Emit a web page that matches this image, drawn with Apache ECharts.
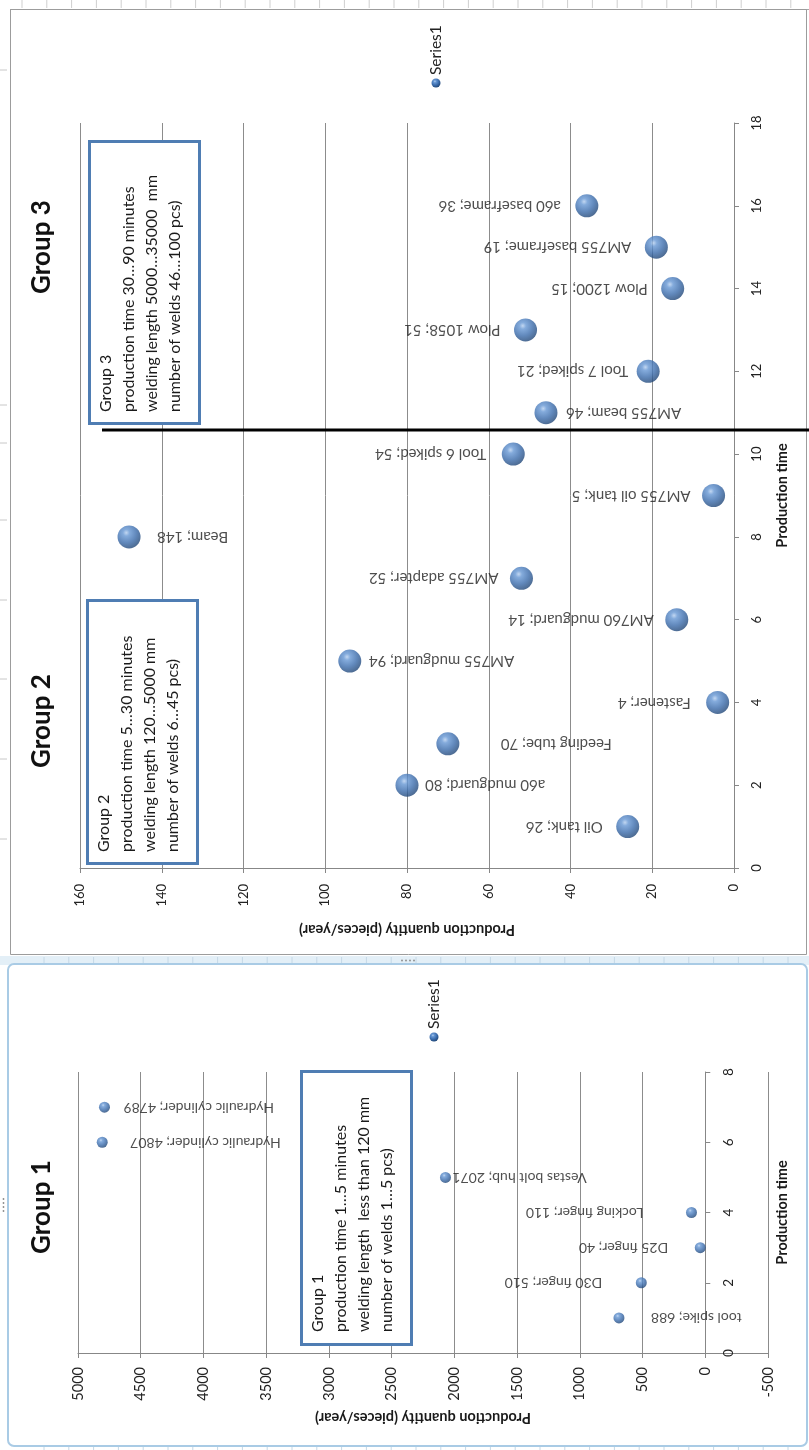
<!DOCTYPE html>
<html>
<head>
<meta charset="utf-8">
<script src="https://cdn.jsdelivr.net/npm/echarts@6/dist/echarts.min.js"></script>
<style>
  html, body { margin: 0; padding: 0; background: #fff; }
  #chart { width: 809px; height: 1450px; }
</style>
</head>
<body>
<div id="chart"></div>
<script>
// ---- Group 1: quick parts (production time 1..7 min) ----
const group1Names = ['tool spike', 'D30 finger', 'D25 finger', 'Locking finger', 'Vestas bolt hub', 'Hydraulic cylinder', 'Hydraulic cylinder'];
const group1Time  = [1, 2, 3, 4, 5, 6, 7];
const group1Qty   = [688, 510, 40, 110, 2071, 4807, 4789];

// ---- Groups 2 and 3: longer welds (production time 1..16) ----
const group23Names = ['Oil tank', 'a60 mudguard', 'Feeding tube', 'Fastener', 'AM755 mudguard', 'AM760 mudguard',
  'AM755 adapter', 'Beam', 'AM755 oil tank', 'Tool 6 spiked', 'AM755 beam', 'Tool 7 spiked', 'Plow 1058',
  'Plow 1200', 'AM755 baseframe', 'a60 baseframe'];
const group23Time  = [1, 2, 3, 4, 5, 6, 7, 8, 9, 10, 11, 12, 13, 14, 15, 16];
const group23Qty   = [26, 80, 70, 4, 94, 14, 52, 148, 5, 54, 46, 21, 51, 15, 19, 36];

// ---- axis ticks ----
const qtyTicks1   = [-500, 0, 500, 1000, 1500, 2000, 2500, 3000, 3500, 4000, 4500, 5000];
const timeTicks1  = [0, 2, 4, 6, 8];
const qtyTicks23  = [0, 20, 40, 60, 80, 100, 120, 140, 160];
const timeTicks23 = [0, 2, 4, 6, 8, 10, 12, 14, 16, 18];

// ---- group notes ----
const note1 = ['Group 1', 'production time 1\u20265 minutes', 'welding length  less than 120 mm', 'number of welds 1\u20265 pcs)'];
const note2 = ['Group 2', 'production time 5\u202630 minutes', 'welding length 120\u20265000 mm', 'number of welds 6\u202645 pcs)'];
const note3 = ['Group 3', 'production time 30\u202690 minutes', 'welding length 5000\u202635000  mm', 'number of welds 46\u2026100 pcs)'];

// label placement: +1 label after the marker, -1 before it; gap from marker centre in px
const side1  = [1, -1, -1, -1, 1, 1, 1];
const gap1   = [32, 39, 32, 48, 7, 28, 19];
const side23 = [-1, 1, 1, -1, 1, -1, -1, 1, -1, -1, 1, -1, -1, -1, -1, -1];
const gap23  = [25, 18, 53, 27, 19, 23, 23, 28, 23, 27, 20, 20, 25, 25, 25, 26];

const FONT = 'Lato, "Open Sans", sans-serif';
const AXIS_GRAY = '#878787';
const GRID_GRAY = '#8c8c8c';
const TEXT = '#222';

const GRID23 = { left: 80, top: 123, width: 654, height: 745 };
const GRID1  = { left: 78, top: 1072, width: 690, height: 281 };

function sphere() {
  return new echarts.graphic.RadialGradient(0.38, 0.32, 0.72, [
    { offset: 0, color: '#b3cdee' },
    { offset: 0.2, color: '#6596d3' },
    { offset: 0.6, color: '#3a6bab' },
    { offset: 1, color: '#1f4474' }
  ]);
}

function buildPoints(names, qty, time, side, gap) {
  return names.map((n, i) => ({
    name: n,
    value: [qty[i], time[i]],
    label: {
      align: side[i] > 0 ? 'right' : 'left',
      offset: [-side[i] * gap[i], 0]
    }
  }));
}

function span(ticks) {
  return { min: ticks[0], max: ticks[ticks.length - 1], interval: ticks[1] - ticks[0] };
}

const plain = v => String(v);

function qtyAxis(gridIndex, ticks, labelSize, margin, nameGap) {
  const s = span(ticks);
  return {
    type: 'value', gridIndex, inverse: true, position: 'bottom',
    min: s.min, max: s.max, interval: s.interval,
    name: 'Production quantity (pieces/year)', nameLocation: 'middle', nameGap, nameRotate: 180,
    nameTextStyle: { fontFamily: FONT, fontWeight: 'bold', fontSize: 14.5, color: '#1a1a1a' },
    axisLine: { show: true, onZero: false, lineStyle: { color: AXIS_GRAY, width: 1 } },
    axisTick: { show: true, length: 5, lineStyle: { color: AXIS_GRAY } },
    axisLabel: { rotate: 90, margin, fontFamily: FONT, fontSize: labelSize, color: TEXT, formatter: plain },
    splitLine: { show: true, lineStyle: { color: GRID_GRAY, width: 1 } }
  };
}

// the time axis sits on quantity 0: shift it in from the grid's right edge
function timeAxis(gridIndex, ticks, qtyTicks, grid, labelSize, nameGap) {
  const s = span(ticks);
  const q = span(qtyTicks);
  const shift = -grid.width * (0 - q.min) / (q.max - q.min);
  return {
    type: 'value', gridIndex, position: 'right', offset: shift,
    min: s.min, max: s.max, interval: s.interval,
    name: 'Production time', nameLocation: 'middle', nameGap, nameRotate: 90,
    nameTextStyle: { fontFamily: FONT, fontWeight: 'bold', fontSize: 14.5, color: '#1a1a1a' },
    axisLine: { show: true, onZero: false, lineStyle: { color: AXIS_GRAY, width: 1 } },
    axisTick: { show: true, length: 5, lineStyle: { color: AXIS_GRAY } },
    axisLabel: { rotate: 90, margin: 16, fontFamily: FONT, fontSize: labelSize, color: TEXT, formatter: plain },
    splitLine: { show: false }
  };
}

function scatter(axisIndex, data, size, fontSize) {
  return {
    type: 'scatter', name: 'Series1', xAxisIndex: axisIndex, yAxisIndex: axisIndex,
    symbol: 'circle', symbolSize: size, data,
    itemStyle: { color: sphere() },
    label: {
      show: true, position: 'inside', rotate: 180, verticalAlign: 'middle',
      fontFamily: FONT, fontSize, color: TEXT,
      formatter: p => p.name + '; ' + p.value[0]
    },
    emphasis: { disabled: true },
    z: 3
  };
}

// note box: bordered rectangle with rotated multi-line text
function noteBox(rect, lines, anchor) {
  return [
    { type: 'rect', shape: rect, style: { fill: '#fff', stroke: '#4f7db3', lineWidth: 3 }, z: 100 },
    { type: 'text', x: anchor[0], y: anchor[1], rotation: Math.PI / 2, z: 101,
      style: { text: lines.join('\n'), font: '16px ' + FONT, fill: '#1a1a1a', lineHeight: 23,
               align: 'left', verticalAlign: 'top', textAlign: 'left', textVerticalAlign: 'top' } }
  ];
}

function groupTitle(text, x, y) {
  return { type: 'text', x, y, rotation: Math.PI / 2, z: 101,
    style: { text, font: 'bold 26px ' + FONT, fill: '#111', align: 'center', verticalAlign: 'middle',
             textAlign: 'center', textVerticalAlign: 'middle' } };
}

function legendItem(x, y) {
  return [
    { type: 'circle', shape: { cx: x, cy: y + 8, r: 4.5 }, style: { fill: sphere() }, z: 101 },
    { type: 'text', x, y, rotation: Math.PI / 2, z: 101,
      style: { text: 'Series1', font: '15.5px ' + FONT, fill: TEXT, align: 'left', verticalAlign: 'middle',
               textAlign: 'left', textVerticalAlign: 'middle' } }
  ];
}

// sheet decoration: ruler ticks along the top, frames of the two chart objects
const decor = [];
for (let x = 22; x < 809; x += 24.8) {
  decor.push({ type: 'line', shape: { x1: x, y1: 0, x2: x, y2: 8 }, style: { stroke: '#cfcfcf', lineWidth: 1 }, z: 1 });
}
decor.push({ type: 'line', shape: { x1: 10, y1: 9.5, x2: 809, y2: 9.5 }, style: { stroke: '#a8a8a8', lineWidth: 1 }, z: 1 });
[70, 405, 443, 520, 600, 679, 759, 839].forEach(y => {
  decor.push({ type: 'line', shape: { x1: 0, y1: y, x2: 7, y2: y }, style: { stroke: '#c8c8c8', lineWidth: 1 }, z: 1 });
});
decor.push({ type: 'rect', shape: { x: 10.5, y: 9.5, width: 796, height: 945 }, style: { fill: null, stroke: '#9c9c9c', lineWidth: 1 }, z: 1 });
decor.push({ type: 'rect', shape: { x: 0, y: 956, width: 809, height: 9 }, style: { fill: '#e3eff7', stroke: null }, z: 0 });
for (let x = 44; x < 809; x += 24.8) {
  decor.push({ type: 'line', shape: { x1: x, y1: 957, x2: x, y2: 964 }, style: { stroke: '#c5d8e6', lineWidth: 1 }, z: 1 });
  decor.push({ type: 'line', shape: { x1: x, y1: 1445, x2: x, y2: 1450 }, style: { stroke: '#c5d8e6', lineWidth: 1 }, z: 1 });
}
decor.push({ type: 'rect', shape: { x: 8, y: 964, width: 799, height: 482, r: 6 }, style: { fill: null, stroke: '#a9cbe5', lineWidth: 2 }, z: 1 });
for (let i = 0; i < 4; i++) {
  decor.push({ type: 'circle', shape: { cx: 402 + i * 4, cy: 960.5, r: 0.9 }, style: { fill: '#8a8a8a' }, z: 2 });
  decor.push({ type: 'circle', shape: { cx: 3.5, cy: 1199 + i * 4, r: 0.9 }, style: { fill: '#8a8a8a' }, z: 2 });
}

const chart = echarts.init(document.getElementById('chart'), null, { renderer: 'canvas' });

const option = {
  backgroundColor: '#fff',
  animation: false,
  grid: [GRID23, GRID1],
  xAxis: [
    qtyAxis(0, qtyTicks23, 13, 16, 54),
    qtyAxis(1, qtyTicks1, 14.5, 14, 57)
  ],
  yAxis: [
    timeAxis(0, timeTicks23, qtyTicks23, GRID23, 13, 41),
    timeAxis(1, timeTicks1, qtyTicks1, GRID1, 13.5, 70)
  ],
  series: [
    scatter(0, buildPoints(group23Names, group23Qty, group23Time, side23, gap23), 23, 15),
    scatter(1, buildPoints(group1Names, group1Qty, group1Time, side1, gap1), 11, 14)
  ],
  graphic: [].concat(
    decor,
    noteBox({ x: 89.5, y: 141.5, width: 110, height: 282 }, note3, [94, 412]),
    noteBox({ x: 87.5, y: 600.5, width: 110, height: 263 }, note2, [92.5, 852]),
    noteBox({ x: 301.5, y: 1071.5, width: 110, height: 273 }, note1, [306.5, 1332]),
    groupTitle('Group 3', 42, 247),
    groupTitle('Group 2', 42, 721),
    groupTitle('Group 1', 42, 1207),
    legendItem(436, 75),
    legendItem(434, 1029),
    [{ type: 'line', shape: { x1: 102, y1: 430, x2: 809, y2: 430 }, style: { stroke: '#000', lineWidth: 3 }, z: 102 }]
  )
};

chart.setOption(option);
</script>
</body>
</html>
